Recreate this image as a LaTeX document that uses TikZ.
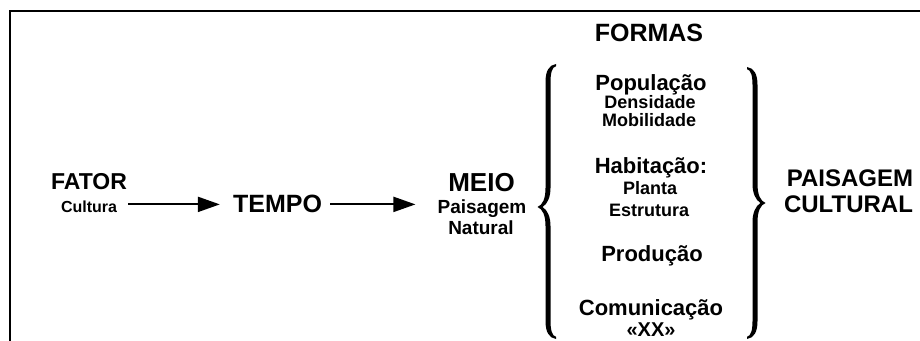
\documentclass[tikz,border=0pt]{standalone}
\usepackage{fontspec}
\setmainfont{Liberation Sans}
\usetikzlibrary{arrows.meta}

% Calligraphic curly brace, tip at the origin, opening towards +x.
% #1 = reach above the tip, #2 = reach below the tip.
\newcommand\curlybrace[2]{%
  \fill (17,#1+1) .. controls (10,#1) and (6.5,#1-6) .. (6.5,#1-17)
    -- (6.5,19) .. controls (6.5,8) and (3.5,2) .. (-1.5,0)
    .. controls (3.5,-2) and (6.5,-8) .. (6.5,-19)
    -- (6.5,-#2+17) .. controls (6.5,-#2+6) and (10,-#2) .. (17,-#2-1)
    -- (17,-#2+1.2) .. controls (13,-#2+2) and (11.5,-#2+8) .. (11.5,-#2+17)
    -- (11.5,-19) .. controls (11.5,-10) and (8.5,-3) .. (3.5,0)
    .. controls (8.5,3) and (11.5,10) .. (11.5,19)
    -- (11.5,#1-17) .. controls (11.5,#1-8) and (13,#1-2) .. (17,#1-1.2) -- cycle;}

\begin{document}
\begin{tikzpicture}[x=1pt,y=1pt,
  lbl/.style={inner sep=0pt, anchor=base},
  sz/.style={font=\bfseries\fontsize{#1}{#1}\selectfont},
  arr/.style={line width=2pt, -{Triangle[length=22pt,width=15pt]}}]
\useasboundingbox (0,0) rectangle (920,340);

% frame
\draw[line width=2.2pt] (10,-2) -- (10,329) -- (922,329);

% left column
\node[lbl, sz=23] (fator)   at (89,150)  {FATOR};
\node[lbl, sz=16] (cultura) at (89,127)  {Cultura};
\node[lbl, sz=25] (tempo)   at (277.5,127) {TEMPO};
\node[lbl, sz=26] (meio)    at (481.5,148) {MEIO};
\node[lbl, sz=19] (paisn)   at (482,126) {Paisagem};
\node[lbl, sz=19] (natural) at (481,105) {Natural};

% arrows
\draw[arr, shorten <=11pt, shorten >=13pt] (tempo.west -| cultura.east) -- (tempo.west);
\draw[arr, shorten <=8pt, shorten >=22pt] (tempo.east) -- (tempo.east -| paisn.west);

% braces
\begin{scope}[shift={(539,133)}]
  \curlybrace{142}{131}
\end{scope}
\begin{scope}[shift={(764,137)}, xscale=-1]
  \curlybrace{135}{135}
\end{scope}

% forms column
\node[lbl, sz=25] (formas)     at (649,298) {FORMAS};
\node[lbl, sz=22] (populacao)  at (651,249) {População};
\node[lbl, sz=18] (densidade)  at (650,231) {Densidade};
\node[lbl, sz=18] (mobilidade) at (649,213) {Mobilidade};
\node[lbl, sz=22] (habitacao)  at (651,166) {Habitação:};
\node[lbl, sz=18] (planta)     at (650,145) {Planta};
\node[lbl, sz=18] (estrutura)  at (649,123) {Estrutura};
\node[lbl, sz=22] (producao)   at (652,78)  {Produção};
\node[lbl, sz=22] (comunicacao) at (651,25) {Comunicação};
\node[lbl, sz=20] (xx)         at (651,4)   {«XX»};

% result
\node[lbl, sz=24] (paisc)    at (850,153) {PAISAGEM};
\node[lbl, sz=24] (cultural) at (848.5,127) {CULTURAL};
\end{tikzpicture}
\end{document}
